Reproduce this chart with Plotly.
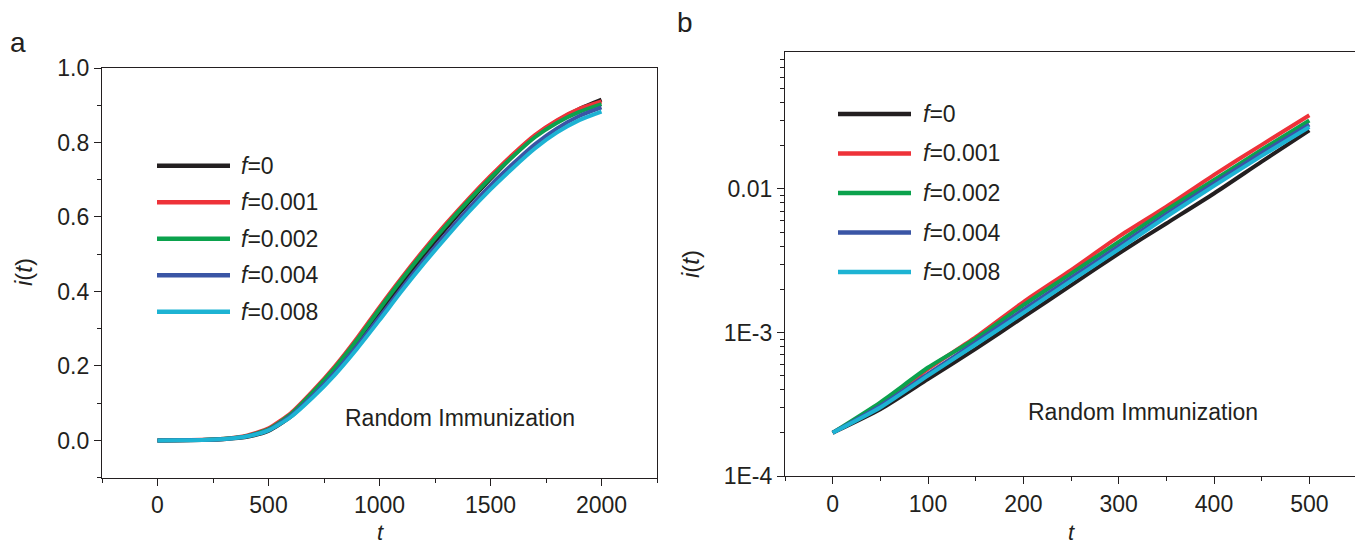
import plotly.graph_objects as go

# ---------------- data ----------------
series_names = ["f=0", "f=0.001", "f=0.002", "f=0.004", "f=0.008"]
series_labels = ["<i>f</i>=0", "<i>f</i>=0.001", "<i>f</i>=0.002", "<i>f</i>=0.004", "<i>f</i>=0.008"]
colors = ["#231f20", "#ee3239", "#0ba24d", "#3a55a5", "#1db3d3"]

# panel a: t = 0 .. 2000, step 100
t_full = [0, 100, 200, 300, 400, 500, 600, 700, 800, 900, 1000,
          1100, 1200, 1300, 1400, 1500, 1600, 1700, 1800, 1900, 2000]
a_f0 = [0.0002, 0.00047, 0.00128, 0.00355, 0.0093, 0.0256, 0.064, 0.122, 0.188, 0.262, 0.343,
        0.423, 0.498, 0.570, 0.638, 0.702, 0.763, 0.817, 0.858, 0.890, 0.915]
a_f001 = [0.0002, 0.00056, 0.00163, 0.00465, 0.0125, 0.0326, 0.073, 0.133, 0.200, 0.276, 0.358,
          0.437, 0.512, 0.582, 0.648, 0.710, 0.768, 0.820, 0.860, 0.890, 0.910]
a_f002 = [0.0002, 0.00057, 0.00155, 0.00428, 0.0116, 0.0300, 0.070, 0.130, 0.196, 0.271, 0.353,
          0.432, 0.507, 0.577, 0.643, 0.705, 0.762, 0.814, 0.853, 0.882, 0.903]
a_f004 = [0.0002, 0.00051, 0.00144, 0.00399, 0.0110, 0.0281, 0.066, 0.121, 0.183, 0.254, 0.331,
          0.409, 0.484, 0.554, 0.622, 0.685, 0.742, 0.795, 0.838, 0.871, 0.894]
a_f008 = [0.0002, 0.00050, 0.00137, 0.00380, 0.0105, 0.0270, 0.063, 0.116, 0.177, 0.247, 0.323,
          0.401, 0.475, 0.545, 0.612, 0.674, 0.731, 0.784, 0.827, 0.860, 0.883]

# panel b: t = 0 .. 500, step 50
t_early = [0, 50, 100, 150, 200, 250, 300, 350, 400, 450, 500]
b_f0 = [0.0002, 0.000292, 0.000474, 0.000769, 0.00128, 0.00213, 0.00355, 0.00575, 0.0093, 0.0155, 0.0256]
b_f001 = [0.0002, 0.000309, 0.000557, 0.000927, 0.00163, 0.00272, 0.00465, 0.00752, 0.01253, 0.0203, 0.0326]
b_f002 = [0.0002, 0.000326, 0.000570, 0.000904, 0.00155, 0.00257, 0.00428, 0.00713, 0.01156, 0.01874, 0.0300]
b_f004 = [0.0002, 0.000309, 0.000514, 0.000855, 0.00144, 0.00240, 0.00399, 0.00668, 0.01096, 0.0178, 0.0281]
b_f008 = [0.0002, 0.000300, 0.000500, 0.000824, 0.00137, 0.00229, 0.00380, 0.00640, 0.01050, 0.0170, 0.0270]

panel_a = [a_f0, a_f001, a_f002, a_f004, a_f008]
panel_b = [b_f0, b_f001, b_f002, b_f004, b_f008]

x_ticks_a = [0, 500, 1000, 1500, 2000]
x_ticks_b = [0, 100, 200, 300, 400, 500]
y_ticks_b = [1e-4, 1e-3, 1e-2]
y_ticktext_b = ["1E-4", "1E-3", "0.01"]

x_title = "<i>t</i>"
y_title = "<i>i</i>(<i>t</i>)"

# ---------------- layout helpers ----------------
# the page body has an 8px margin, so the figure is sized to fit the window exactly
BODY = 8
W, H = 1363 - BODY, 552 - 2 * BODY
FONT = "Liberation Sans, Arial, Helvetica, sans-serif"
INK = "#231f20"
FS = 23


def px(x):
    return (x - BODY) / W


def py(y):
    return 1 - (y - BODY) / H


fig = go.Figure()

for name, col, ys in zip(series_names, colors, panel_a):
    fig.add_trace(go.Scatter(x=t_full, y=ys, mode="lines", name=name, showlegend=False,
                             line=dict(color=col, width=4, shape="spline", smoothing=0.6),
                             xaxis="x", yaxis="y"))
for name, col, ys in zip(series_names, colors, panel_b):
    fig.add_trace(go.Scatter(x=t_early, y=ys, mode="lines", name=name, showlegend=False,
                             line=dict(color=col, width=4, shape="spline", smoothing=0.6),
                             xaxis="x2", yaxis="y2"))

tickfont = dict(family=FONT, size=FS, color=INK)
common = dict(showgrid=False, zeroline=False, linecolor=INK, linewidth=1.3, automargin=False,
              tickcolor=INK, tickwidth=1.3, tickfont=tickfont)

xa_range = [-250, 2250]
ya_range = [-0.1, 1.0]
xb_range = [-50, 550]
yb_range = [-4, -1.0458]

minor_log = [m * d for d in (1e-4, 1e-3, 1e-2) for m in range(2, 10) if m * d < 0.09]

fig.update_layout(
    width=W, height=H, autosize=False,
    margin=dict(l=0, r=0, t=0, b=0, pad=0, autoexpand=False),
    paper_bgcolor="white", plot_bgcolor="white",
    font=dict(family=FONT, color=INK),
    showlegend=False,
    xaxis=dict(domain=[px(102), px(657)], anchor="y", range=xa_range, tickvals=x_ticks_a,
               showline=True, mirror=True, ticks="outside", ticklen=7,
               minor=dict(dtick=250, tick0=0, ticks="outside", ticklen=4, tickcolor=INK, tickwidth=1.3),
               **common),
    yaxis=dict(domain=[py(477.7), py(68)], anchor="x", range=ya_range, dtick=0.2, tick0=0,
               tickformat=".1f", showline=True, mirror=True, ticks="outside", ticklen=7,
               minor=dict(dtick=0.1, tick0=0, ticks="outside", ticklen=4, tickcolor=INK, tickwidth=1.3),
               **common),
    xaxis3=dict(overlaying="x", anchor="y", side="top", range=xa_range, tickvals=x_ticks_a,
                showticklabels=False, showline=False, ticks="inside", ticklen=7,
                minor=dict(dtick=250, tick0=0, ticks="inside", ticklen=4, tickcolor=INK, tickwidth=1.3),
                **common),
    yaxis3=dict(overlaying="y", anchor="x", side="right", range=ya_range, dtick=0.2, tick0=0,
                showticklabels=False, showline=False, ticks="inside", ticklen=7,
                minor=dict(dtick=0.1, tick0=0, ticks="inside", ticklen=4, tickcolor=INK, tickwidth=1.3),
                **common),
    xaxis2=dict(domain=[px(785), px(1357)], anchor="y2", range=xb_range, tickvals=x_ticks_b,
                showline=True, mirror=True, ticks="outside", ticklen=7,
                minor=dict(dtick=50, tick0=0, ticks="outside", ticklen=4, tickcolor=INK, tickwidth=1.3),
                **common),
    yaxis2=dict(domain=[py(476), py(52)], anchor="x2", type="log", range=yb_range,
                tickvals=y_ticks_b, ticktext=y_ticktext_b,
                showline=True, mirror=True, ticks="outside", ticklen=7,
                minor=dict(tickvals=minor_log, ticks="outside", ticklen=4, tickcolor=INK, tickwidth=1.3),
                **common),
    xaxis4=dict(overlaying="x2", anchor="y2", side="top", range=xb_range, tickvals=x_ticks_b,
                showticklabels=False, showline=False, ticks="inside", ticklen=7,
                minor=dict(dtick=50, tick0=0, ticks="inside", ticklen=4, tickcolor=INK, tickwidth=1.3),
                **common),
    yaxis4=dict(overlaying="y2", anchor="x2", side="right", type="log", range=yb_range,
                tickvals=y_ticks_b, showticklabels=False, showline=False, ticks="inside", ticklen=7,
                minor=dict(tickvals=minor_log, ticks="inside", ticklen=4, tickcolor=INK, tickwidth=1.3),
                **common),
)

# ---------------- legends (drawn as guides) ----------------
annotations = []
shapes = []
legend_specs = [
    # (line x0, line x1, text x, first y, step)  in pixels
    (157, 230, 239, 165.7, 36.5),
    (838, 911, 921, 114.0, 39.5),
]
for (lx0, lx1, tx, y0, dy) in legend_specs:
    for k, (lab, col) in enumerate(zip(series_labels, colors)):
        yy = y0 + k * dy
        shapes.append(dict(type="line", xref="paper", yref="paper",
                           x0=px(lx0), x1=px(lx1), y0=py(yy), y1=py(yy),
                           line=dict(color=col, width=4.5)))
        annotations.append(dict(text=lab, xref="paper", yref="paper", x=px(tx), y=py(yy),
                                xanchor="left", yanchor="middle", showarrow=False,
                                font=dict(family=FONT, size=FS, color=INK)))


def label(text, x, y, size=FS, angle=0, yanchor="middle", pad=1):
    return dict(text=text, xref="paper", yref="paper", x=px(x), y=py(y),
                xanchor="center", yanchor=yanchor, showarrow=False, textangle=angle,
                borderpad=pad, font=dict(family=FONT, size=size, color=INK))


annotations += [
    label("Random Immunization", 460, 418),
    label("Random Immunization", 1143, 412),
    label(x_title, 380, 532, size=22, pad=0),
    label(x_title, 1071, 532, size=22, pad=0),
    label(y_title, 23, 272, size=24, angle=-90),
    label(y_title, 690, 264, size=24, angle=-90),
    label("a", 18, 42, size=28),
    label("b", 685, 22, size=28),
]
fig.update_layout(annotations=annotations, shapes=shapes)

fig.write_html("out.html")
